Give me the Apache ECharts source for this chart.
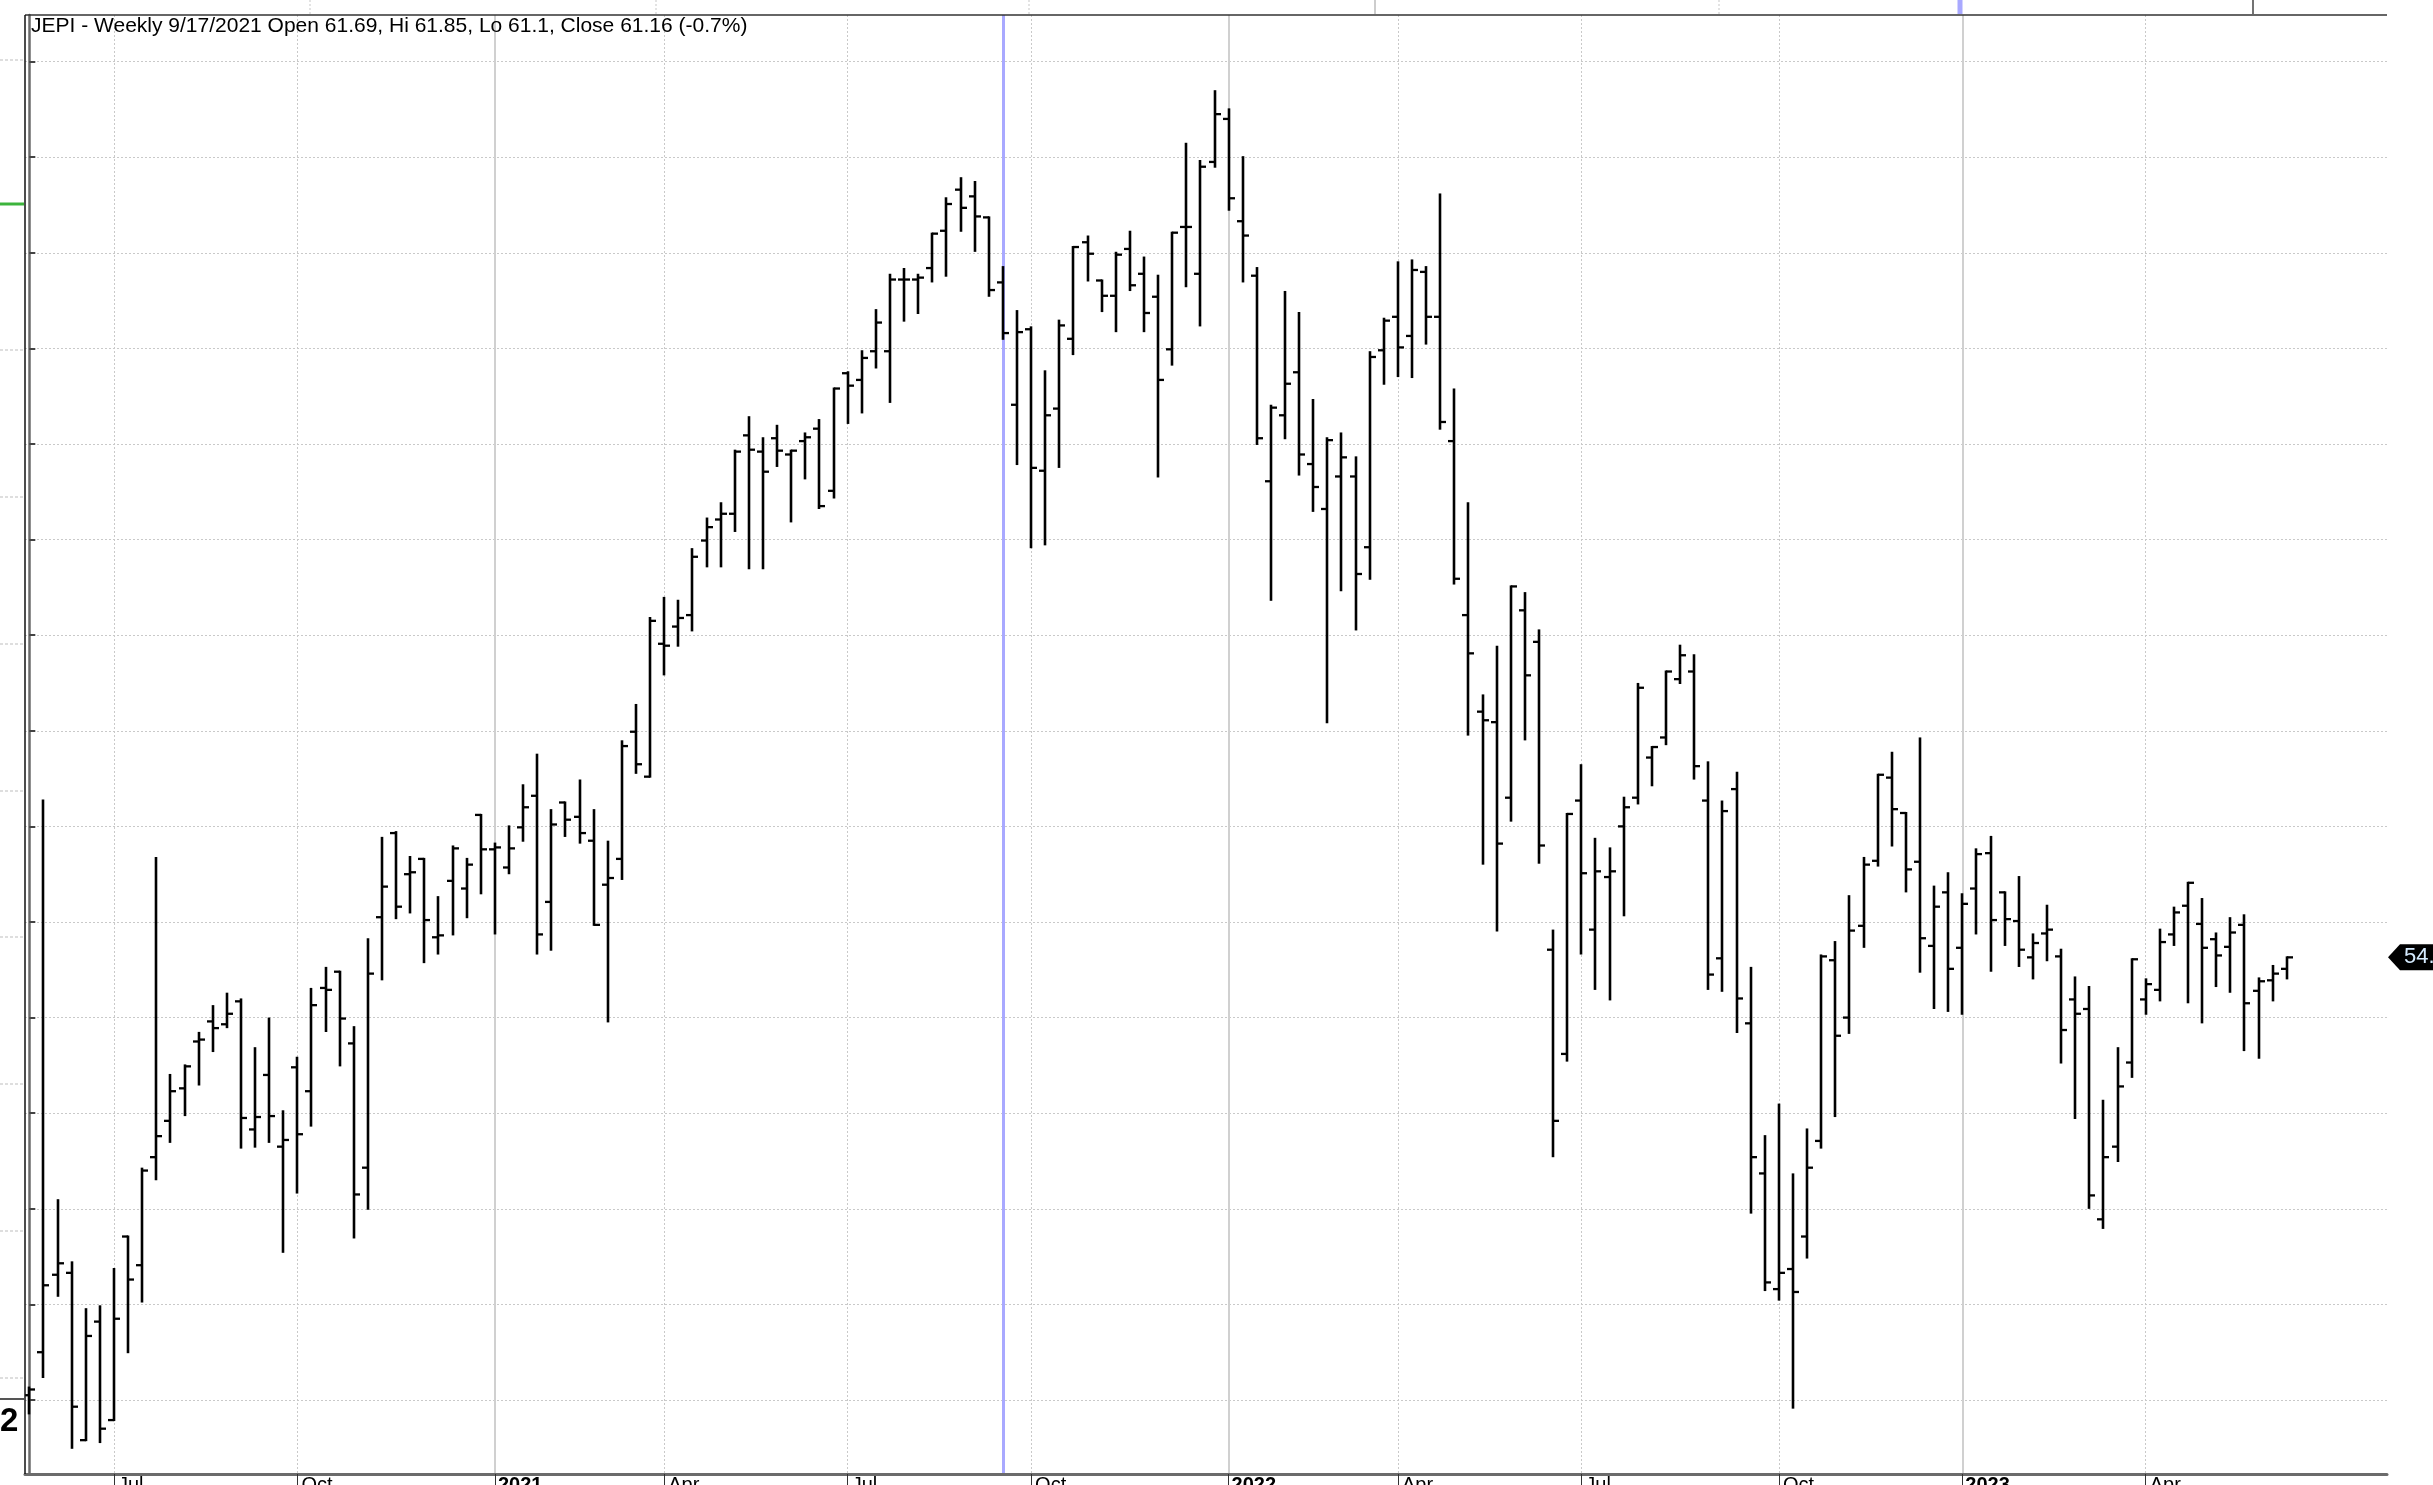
<!DOCTYPE html>
<html><head><meta charset="utf-8">
<script src="https://cdn.jsdelivr.net/npm/echarts@6/dist/echarts.min.js"></script>
<style>html,body{margin:0;padding:0;background:#fff;overflow:hidden}#c{width:2433px;height:1485px}</style>
</head><body><div id="c"></div>
<script>
const titleText = 'JEPI - Weekly 9/17/2021 Open 61.69, Hi 61.85, Lo 61.1, Close 61.16 (-0.7%)';
// weekly bars, index 0 = week of 5/22/2020
const opens = [50.05,50.50,51.31,51.33,49.58,50.82,49.79,51.71,51.41,52.54,
52.92,53.26,53.75,53.96,53.93,54.17,52.83,53.40,52.65,53.48,
53.23,54.31,54.48,53.73,52.43,55.05,55.93,55.50,55.66,54.84,
55.43,55.35,56.12,55.76,55.57,55.99,56.32,55.21,56.25,56.10,
55.85,55.39,55.66,56.99,56.52,57.91,58.09,58.21,58.99,59.21,
59.27,60.09,59.92,60.06,59.89,60.03,60.16,59.51,60.74,60.67,
60.97,60.97,61.72,61.72,61.84,62.23,62.66,62.59,62.37,61.69,
60.41,61.20,59.72,60.37,61.10,62.11,61.71,61.55,62.04,61.78,
61.54,60.99,62.27,61.78,62.95,63.40,62.33,61.76,59.61,60.30,
60.75,59.79,59.32,59.66,59.66,58.92,60.98,61.33,61.13,61.80,
61.33,60.03,58.21,57.20,57.09,56.30,58.26,57.93,54.71,53.62,
56.27,54.92,55.47,56.00,56.30,56.72,56.93,57.54,57.62,56.27,
54.62,56.39,53.94,52.37,51.16,51.37,51.71,52.71,54.60,54.00,
54.96,55.64,56.51,56.14,55.63,54.75,55.31,54.73,55.35,55.72,
55.31,55.01,54.63,54.88,54.64,54.19,54.09,51.89,52.65,53.53,
54.19,54.29,54.87,55.17,54.98,54.82,54.74,54.97,54.28,54.39,
54.51];
const highs = [50.13,56.27,52.09,51.44,50.95,50.98,51.37,51.71,52.42,55.67,
53.40,53.50,53.84,54.12,54.25,54.19,53.68,53.99,53.02,53.58,
54.30,54.52,54.48,53.90,54.82,55.88,55.94,55.68,55.66,55.26,
55.79,55.66,56.12,55.82,56.00,56.43,56.75,56.17,56.25,56.48,
56.17,55.84,56.89,57.27,58.18,58.39,58.36,58.90,59.22,59.38,
59.93,60.28,60.06,60.19,59.93,60.11,60.25,60.58,60.75,60.97,
61.40,61.77,61.83,61.77,62.20,62.57,62.78,62.74,62.37,61.85,
61.39,61.22,60.76,61.29,62.06,62.17,61.71,62.00,62.22,61.95,
61.76,62.21,63.14,62.96,63.69,63.50,63.00,61.84,60.40,61.59,
61.37,60.46,60.06,60.11,59.86,60.96,61.31,61.90,61.92,61.85,
62.61,60.57,59.38,57.37,57.88,58.51,58.44,58.05,54.91,56.13,
56.64,55.87,55.77,56.30,57.49,56.83,57.62,57.89,57.79,56.67,
56.26,56.56,54.52,52.76,53.09,52.36,52.83,54.65,54.79,55.27,
55.67,56.54,56.77,56.14,56.92,55.37,55.51,55.29,55.76,55.89,
55.31,55.47,54.87,55.17,54.71,54.42,54.32,53.13,53.68,54.61,
54.40,54.92,55.15,55.41,55.24,54.88,55.04,55.07,54.41,54.54,
54.63];
const lows = [49.86,50.24,51.09,49.50,49.58,49.56,49.79,50.50,51.03,52.31,
52.70,52.98,53.30,53.65,53.90,52.64,52.65,52.70,51.55,52.17,
52.87,53.86,53.50,51.70,52.00,54.40,55.04,55.10,54.58,54.67,
54.87,55.05,55.30,54.88,55.51,55.85,54.67,54.71,55.90,55.83,
54.97,53.96,55.45,56.56,56.52,57.59,57.89,58.05,58.72,58.72,
59.09,58.70,58.70,59.77,59.19,59.64,59.33,59.44,60.22,60.33,
60.80,60.44,61.29,61.37,61.70,61.76,62.23,62.02,61.55,61.10,
59.79,58.92,58.95,59.76,60.94,61.71,61.39,61.18,61.61,61.18,
59.66,60.83,61.65,61.24,62.90,62.45,61.70,60.00,58.37,60.06,
59.68,59.30,57.09,58.47,58.06,58.59,60.63,60.71,60.70,61.05,
60.16,58.54,56.96,55.61,54.91,56.06,56.91,55.62,52.55,53.55,
54.67,54.30,54.19,55.07,56.24,56.43,56.86,57.50,56.50,54.30,
54.28,53.85,51.96,51.15,51.05,49.92,51.49,52.64,52.97,53.84,
54.74,55.59,55.80,55.32,54.48,54.10,54.07,54.04,54.88,54.49,
54.76,54.54,54.41,54.60,53.53,52.95,52.01,51.80,52.50,53.38,
54.04,54.18,54.76,54.16,53.95,54.33,54.27,53.66,53.58,54.18,
54.41];
const closes = [50.11,51.20,51.43,49.93,50.67,49.70,50.85,51.26,52.40,52.76,
53.23,53.49,53.77,53.89,54.04,52.95,52.96,52.97,52.72,52.78,
54.13,54.29,53.99,52.15,54.46,55.37,55.16,55.52,55.02,54.86,
55.77,55.60,55.76,55.78,55.77,56.20,54.87,56.02,56.07,55.93,
54.97,55.46,56.84,56.65,58.15,57.89,58.18,58.82,59.13,59.27,
59.92,59.94,59.71,59.93,59.93,60.07,59.35,60.58,60.61,60.90,
61.27,61.72,61.72,61.74,62.20,62.51,62.47,62.38,61.61,61.16,
61.17,59.75,60.30,61.24,62.06,61.99,61.55,61.98,61.66,61.37,
60.67,62.21,62.27,62.90,63.45,62.57,62.18,60.06,60.38,60.63,
59.89,59.55,60.04,59.86,58.64,60.91,61.29,61.01,61.82,61.33,
60.23,58.59,57.81,57.11,55.82,58.51,57.58,55.80,52.92,56.13,
55.51,55.53,55.53,56.20,57.45,56.83,57.62,57.79,56.63,54.45,
56.16,54.20,52.54,51.23,51.33,51.13,52.43,54.64,53.81,54.91,
55.60,56.54,56.18,55.55,54.83,55.16,54.51,55.19,55.71,55.02,
55.03,54.71,54.78,54.92,53.87,54.04,52.14,52.54,53.28,54.61,
54.35,54.79,55.10,55.41,54.73,54.65,54.89,54.15,54.38,54.46,
54.63];
const monthTickIndex = [6,19,45,58,71,97,110,124,150];
const monthTickLabels = ['Jul','Oct','Apr','Jul','Oct','Apr','Jul','Oct','Apr'];
const yearTickIndex = [33,85,137];
const yearTickLabels = ['2021','2022','2023'];
const priceTicks = [50,51,52,53,54,55,56,57,58,59,60,61,62,63,64];
const cursorIndex = [69];

// ---- layout ----
const GRID = {left:25, top:15, width:2362, height:1459};
const X_MIN = -0.305, X_MAX = 167.10;
const Y_MIN = 49.226, Y_MAX = 64.487;
const FONT = 'Liberation Sans, Arial, sans-serif';

const chart = echarts.init(document.getElementById('c'), null, {renderer:'canvas'});
const ohlc = opens.map((o, i) => [i, o, highs[i], lows[i], closes[i]]);

function baseX(extra) {
  return Object.assign({type:'value', min:X_MIN, max:X_MAX, position:'bottom', gridIndex:0,
    axisLine:{show:false}, axisTick:{show:false}, axisLabel:{show:false}, splitLine:{show:false}}, extra);
}

const option = {
  animation:false,
  backgroundColor:'#fff',
  grid:{left:GRID.left, top:GRID.top, width:GRID.width, height:GRID.height, show:false,
        containLabel:false, outerBoundsMode:'none'},
  xAxis:[
    baseX({
      axisLine:{show:true, lineStyle:{color:'#6b6b6b', width:3}},
      axisTick:{show:true, customValues:monthTickIndex, length:11, lineStyle:{color:'#333', width:1}},
      axisLabel:{show:true, customValues:monthTickIndex, margin:1, align:'left', padding:[0,0,0,4],
        formatter:v => monthTickLabels[monthTickIndex.indexOf(Math.round(v))],
        fontSize:20, fontFamily:FONT, color:'#000'},
      splitLine:{show:true, lineStyle:{color:'#c9c9c9', width:1, type:[2,2]}}
    }),
    baseX({
      axisTick:{show:true, customValues:yearTickIndex, length:11, lineStyle:{color:'#333', width:1}},
      axisLabel:{show:true, customValues:yearTickIndex, margin:1, align:'left', padding:[0,0,0,3],
        formatter:v => yearTickLabels[yearTickIndex.indexOf(Math.round(v))],
        fontSize:20, fontWeight:'bold', fontFamily:FONT, color:'#000'},
      splitLine:{show:true, lineStyle:{color:'#d0d0d0', width:2, type:'solid'}}
    }),
    baseX({
      axisTick:{show:false, customValues:cursorIndex},
      splitLine:{show:true, lineStyle:{color:'#a9a9ff', width:3, type:'solid'}}
    })
  ],
  yAxis:{type:'value', position:'right', min:Y_MIN, max:Y_MAX,
    axisLine:{show:true, lineStyle:{color:'#6b6b6b', width:2.5}},
    axisTick:{show:true, customValues:priceTicks, length:6, lineStyle:{color:'#444', width:2}},
    axisLabel:{show:false, customValues:priceTicks},
    splitLine:{show:true, lineStyle:{color:'#c9c9c9', width:1, type:[2,2]}}
  },
  series:[{
    type:'custom', xAxisIndex:0, yAxisIndex:0, clip:true, z:5,
    data:ohlc,
    encode:{x:0, y:[1,2,3,4]},
    renderItem:function(params, api){
      const i = api.value(0);
      const o = api.coord([i, api.value(1)]);
      const h = api.coord([i, api.value(2)]);
      const l = api.coord([i, api.value(3)]);
      const c = api.coord([i, api.value(4)]);
      const x = Math.round(o[0]);
      const vs = {stroke:'#000', lineWidth:2.6};
      const ts = {stroke:'#000', lineWidth:2.3};
      return {type:'group', children:[
        {type:'line', shape:{x1:x, y1:h[1]-1, x2:x, y2:l[1]+1}, style:vs},
        {type:'line', shape:{x1:x-6, y1:o[1], x2:x, y2:o[1]}, style:ts},
        {type:'line', shape:{x1:x, y1:c[1], x2:x+6, y2:c[1]}, style:ts}
      ]};
    }
  }]
};
chart.setOption(option);

// ---- decorations: frame, title, price tag, clipped neighbour panel marks ----
const lastClose = closes[closes.length - 1];
const tagY = chart.convertToPixel({yAxisIndex:0}, lastClose);
const right = GRID.left + GRID.width, bottom = GRID.top + GRID.height;
const leftTicks = [60, 350, 497, 644, 791, 937, 1084, 1231, 1378];
const topMarks = [{x:310, c:'#c8c8c8', d:[2,2], w:1}, {x:656, c:'#c8c8c8', d:[2,2], w:1},
  {x:1029, c:'#c8c8c8', d:[2,2], w:1}, {x:1375, c:'#bdbdbd', d:null, w:1.5},
  {x:1719, c:'#c8c8c8', d:[2,2], w:1}, {x:1960, c:'#a9a9ff', d:null, w:5},
  {x:2253, c:'#444', d:null, w:1.5}];
const g = [];
g.push({type:'line', shape:{x1:GRID.left, y1:GRID.top, x2:right, y2:GRID.top}, style:{stroke:'#333', lineWidth:1.5}, z:10});
g.push({type:'line', shape:{x1:GRID.left, y1:GRID.top, x2:GRID.left, y2:bottom}, style:{stroke:'#111', lineWidth:1.5}, z:10});
leftTicks.forEach(y => g.push({type:'line', shape:{x1:0, y1:y, x2:GRID.left-1, y2:y}, style:{stroke:'#bdbdbd', lineWidth:1, lineDash:[3,2]}, z:10}));
g.push({type:'line', shape:{x1:0, y1:204, x2:GRID.left-1, y2:204}, style:{stroke:'#3cb43c', lineWidth:3}, z:10});
g.push({type:'line', shape:{x1:0, y1:1399, x2:GRID.left-1, y2:1399}, style:{stroke:'#555', lineWidth:2}, z:10});
g.push({type:'text', left:0, top:1405, style:{text:'2', font:'bold 33px ' + FONT, fill:'#000'}, z:10});
topMarks.forEach(m => g.push({type:'line', shape:{x1:m.x, y1:0, x2:m.x, y2:GRID.top-1}, style:{stroke:m.c, lineWidth:m.w, lineDash:m.d}, z:10}));
g.push({type:'text', left:31, top:16, style:{text:titleText, font:'21px ' + FONT, fill:'#000'}, z:10});
g.push({type:'polygon', shape:{points:[[right+1, tagY],[right+13, tagY-13],[2440, tagY-13],[2440, tagY+13],[right+13, tagY+13]]}, style:{fill:'#000'}, z:10});
g.push({type:'text', x:2404, y:tagY, style:{text:lastClose.toFixed(2), font:'22px ' + FONT, fill:'#d6ebff', verticalAlign:'middle', align:'left'}, z:11});
chart.setOption({graphic:g});
</script></body></html>
